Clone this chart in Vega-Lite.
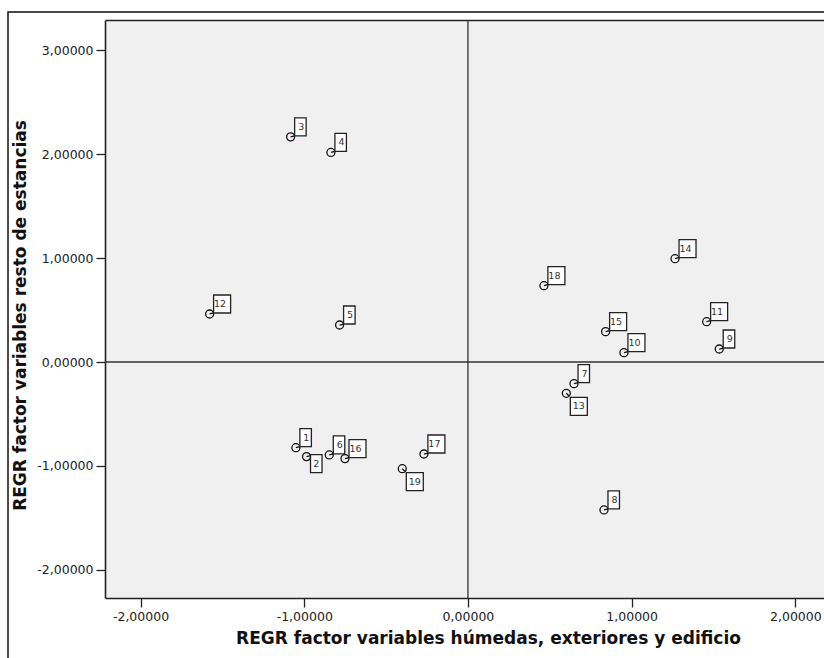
{
  "$schema": "https://vega.github.io/schema/vega-lite/v6.json",
  "autosize": {"type": "none"},
  "padding": {"left": 105, "top": 20, "right": 0, "bottom": 60},
  "width": 719,
  "height": 578,
  "config": {
    "font": "DejaVu Sans",
    "view": {"stroke": null, "fill": "#f0f0f0"},
    "axis": {
      "grid": false,
      "domainColor": "#222222",
      "domainWidth": 1.6,
      "tickColor": "#222222",
      "tickWidth": 1.3,
      "tickSize": 9,
      "labelFont": "DejaVu Sans",
      "labelFontSize": 12.5,
      "labelColor": "#222222",
      "labelPadding": 3,
      "titleFont": "DejaVu Sans",
      "titleFontSize": 17,
      "titleFontWeight": "bold",
      "titleColor": "#111111"
    }
  },
  "data": {
    "values": [
      {"id": 1, "x": -1.051, "y": -0.824},
      {"id": 2, "x": -0.986, "y": -0.910},
      {"id": 3, "x": -1.083, "y": 2.166},
      {"id": 4, "x": -0.837, "y": 2.016},
      {"id": 5, "x": -0.784, "y": 0.356},
      {"id": 6, "x": -0.847, "y": -0.894},
      {"id": 7, "x": 0.648, "y": -0.208},
      {"id": 8, "x": 0.831, "y": -1.423},
      {"id": 9, "x": 1.535, "y": 0.125},
      {"id": 10, "x": 0.953, "y": 0.090},
      {"id": 11, "x": 1.458, "y": 0.388},
      {"id": 12, "x": -1.578, "y": 0.462},
      {"id": 13, "x": 0.601, "y": -0.301},
      {"id": 14, "x": 1.265, "y": 0.994},
      {"id": 15, "x": 0.841, "y": 0.292},
      {"id": 16, "x": -0.751, "y": -0.929},
      {"id": 17, "x": -0.269, "y": -0.885},
      {"id": 18, "x": 0.464, "y": 0.734},
      {"id": 19, "x": -0.401, "y": -1.026}
    ]
  },
  "resolve": {"axis": {"x": "independent"}},
  "layer": [
    {
      "data": {"values": [{}]},
      "mark": {"type": "rect", "fill": null, "fillOpacity": 0, "stroke": "#111111", "strokeWidth": 1.5, "clip": false},
      "encoding": {
        "x": {"value": -97},
        "x2": {"value": 900},
        "y": {"value": -8},
        "y2": {"value": 900}
      }
    },
    {
      "data": {"values": [{}]},
      "mark": {"type": "rule", "color": "#333333", "strokeWidth": 1.3},
      "encoding": {
        "x": {
          "datum": 0,
          "type": "quantitative",
          "scale": {"domain": [-2.217, 2.175], "nice": false, "zero": false},
          "axis": {"orient": "top", "labels": false, "ticks": false, "title": null, "domain": true}
        }
      }
    },
    {
      "data": {"values": [{}]},
      "mark": {"type": "rule", "color": "#333333", "strokeWidth": 1.3},
      "encoding": {
        "y": {
          "datum": 0,
          "type": "quantitative",
          "scale": {"domain": [-2.27, 3.29], "nice": false, "zero": false},
          "axis": {
            "values": [-2, -1, 0, 1, 2, 3],
            "labelExpr": "replace(replace(format(datum.value, '.5f'), '.', ','), '−', '-')",
            "title": "REGR factor variables resto de estancias",
            "titleAngle": -90,
            "titleX": -80,
            "titleY": 295,
            "titleBaseline": "alphabetic",
            "titleAlign": "center"
          }
        }
      }
    },
    {
      "mark": {"type": "point", "filled": false, "stroke": "#111111", "strokeWidth": 1.3, "size": 64, "opacity": 1},
      "encoding": {
        "x": {
          "field": "x",
          "type": "quantitative",
          "axis": {
            "values": [-2, -1, 0, 1, 2],
            "labelExpr": "replace(replace(format(datum.value, '.5f'), '.', ','), '−', '-')",
            "title": "REGR factor variables húmedas, exteriores y edificio",
            "titleX": 383,
            "titleY": 45,
            "titleBaseline": "alphabetic",
            "titleAlign": "center"
          }
        },
        "y": {"field": "y", "type": "quantitative", "title": "REGR factor variables resto de estancias"},
        "shape": {
          "condition": {"test": "datum.id == 13 || datum.id == 19", "value": "M1,0A1,1,0,1,1,-1,0A1,1,0,1,1,1,0M0,0L0.75,0.75"},
          "value": "M1,0A1,1,0,1,1,-1,0A1,1,0,1,1,1,0M0,0L1,-0.25"
        }
      }
    },
    {
      "transform": [{"filter": "datum.id < 10 && datum.id != 2"}],
      "mark": {"type": "rect", "fill": "white", "stroke": "#222222", "strokeWidth": 1.3, "xOffset": 4, "x2Offset": 15.5, "yOffset": -19, "y2Offset": -1},
      "encoding": {
        "x": {"field": "x", "type": "quantitative", "axis": null},
        "x2": {"field": "x"},
        "y": {"field": "y", "type": "quantitative", "title": "REGR factor variables resto de estancias"},
        "y2": {"field": "y"}
      }
    },
    {
      "transform": [{"filter": "datum.id >= 10 && datum.id != 13 && datum.id != 19"}],
      "mark": {"type": "rect", "fill": "white", "stroke": "#222222", "strokeWidth": 1.3, "xOffset": 4, "x2Offset": 21, "yOffset": -19, "y2Offset": -1},
      "encoding": {
        "x": {"field": "x", "type": "quantitative", "axis": null},
        "x2": {"field": "x"},
        "y": {"field": "y", "type": "quantitative", "title": "REGR factor variables resto de estancias"},
        "y2": {"field": "y"}
      }
    },
    {
      "transform": [{"filter": "datum.id == 2"}],
      "mark": {"type": "rect", "fill": "white", "stroke": "#222222", "strokeWidth": 1.3, "xOffset": 4, "x2Offset": 15.5, "yOffset": -2, "y2Offset": 16},
      "encoding": {
        "x": {"field": "x", "type": "quantitative", "axis": null},
        "x2": {"field": "x"},
        "y": {"field": "y", "type": "quantitative", "title": "REGR factor variables resto de estancias"},
        "y2": {"field": "y"}
      }
    },
    {
      "transform": [{"filter": "datum.id == 13 || datum.id == 19"}],
      "mark": {"type": "rect", "fill": "white", "stroke": "#222222", "strokeWidth": 1.3, "xOffset": 4, "x2Offset": 21, "yOffset": 4, "y2Offset": 22},
      "encoding": {
        "x": {"field": "x", "type": "quantitative", "axis": null},
        "x2": {"field": "x"},
        "y": {"field": "y", "type": "quantitative", "title": "REGR factor variables resto de estancias"},
        "y2": {"field": "y"}
      }
    },
    {
      "transform": [{"filter": "datum.id != 2 && datum.id != 13 && datum.id != 19"}],
      "mark": {"type": "text", "align": "center", "baseline": "middle", "dx": 10.5, "dy": -10, "fontSize": 9.5, "color": "#333333"},
      "encoding": {
        "x": {"field": "x", "type": "quantitative", "axis": null},
        "y": {"field": "y", "type": "quantitative", "title": "REGR factor variables resto de estancias"},
        "text": {"field": "id", "type": "nominal"}
      }
    },
    {
      "transform": [{"filter": "datum.id == 2"}],
      "mark": {"type": "text", "align": "center", "baseline": "middle", "dx": 9.75, "dy": 7, "fontSize": 9.5, "color": "#333333"},
      "encoding": {
        "x": {"field": "x", "type": "quantitative", "axis": null},
        "y": {"field": "y", "type": "quantitative", "title": "REGR factor variables resto de estancias"},
        "text": {"field": "id", "type": "nominal"}
      }
    },
    {
      "transform": [{"filter": "datum.id == 13 || datum.id == 19"}],
      "mark": {"type": "text", "align": "center", "baseline": "middle", "dx": 12.5, "dy": 13, "fontSize": 9.5, "color": "#333333"},
      "encoding": {
        "x": {"field": "x", "type": "quantitative", "axis": null},
        "y": {"field": "y", "type": "quantitative", "title": "REGR factor variables resto de estancias"},
        "text": {"field": "id", "type": "nominal"}
      }
    }
  ]
}
